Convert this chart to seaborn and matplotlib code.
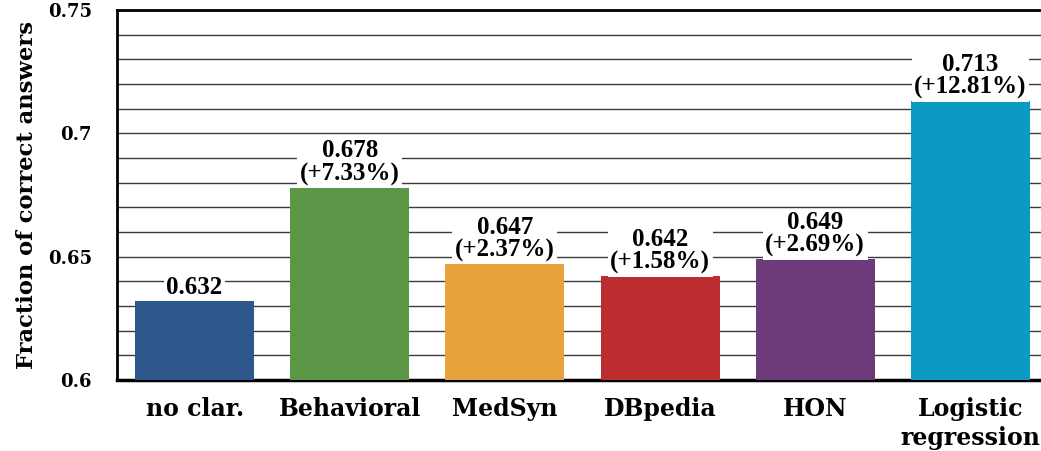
import matplotlib
matplotlib.use("Agg")
import matplotlib.pyplot as plt
import seaborn as sns
import pandas as pd
import numpy as np

categories = ["no clar.", "Behavioral", "MedSyn", "DBpedia", "HON", "Logistic\nregression"]
scores = [0.632, 0.678, 0.647, 0.642, 0.649, 0.713]
gains = [None, "+7.33%", "+2.37%", "+1.58%", "+2.69%", "+12.81%"]
colors = ["#2E588B", "#5C9747", "#E8A23C", "#BC2D30", "#6E3B7A", "#0B9BC2"]
y_ticks = [0.6, 0.65, 0.7, 0.75]

df = pd.DataFrame({"method": categories, "score": scores})

sns.set_theme(style="white")
plt.rcParams["font.family"] = ["DejaVu Serif"]
for key in ["text.color", "axes.labelcolor", "xtick.color", "ytick.color"]:
    plt.rcParams[key] = "black"

fig = plt.figure(figsize=(10.41, 4.51), dpi=100)
ax = fig.add_axes([117 / 1041, 1 - 380 / 451, 931 / 1041, 370 / 451])

sns.barplot(data=df, x="method", y="score", hue="method", palette=colors,
            width=0.767, saturation=1, legend=False, ax=ax, zorder=3,
            edgecolor="none", linewidth=0)

ax.set_xlim(-0.5, len(categories) - 0.5)
ax.set_ylim(0.6, 0.75)

# fine horizontal grid every 0.01, labels only on the 0.05 steps
grid_vals = np.round(np.arange(0.6, 0.7501, 0.01), 3)
ax.set_yticks(grid_vals)
ax.set_yticklabels([f"{v:g}" if np.any(np.isclose(v, y_ticks)) else "" for v in grid_vals])
ax.yaxis.grid(True, color="#3a3a3a", linewidth=1.0, zorder=0)
ax.set_axisbelow(True)

ax.tick_params(axis="y", length=0, pad=18, labelsize=13)
ax.tick_params(axis="x", length=0, pad=12, labelsize=17)
for lab in ax.get_yticklabels():
    lab.set_fontweight("bold")
for lab in ax.get_xticklabels():
    lab.set_fontweight("bold")
    lab.set_linespacing(1.3)

ax.set_xlabel("")
ax.set_ylabel("Fraction of correct answers", fontsize=16.3, fontweight="bold", labelpad=7)

for side in ["left", "top", "bottom"]:
    ax.spines[side].set_color("black")
ax.spines["left"].set_linewidth(2)
ax.spines["top"].set_linewidth(2)
ax.spines["bottom"].set_linewidth(2.5)
ax.spines["right"].set_visible(False)

for i, (v, g) in enumerate(zip(scores, gains)):
    txt = f"{v:.3f}" if g is None else f"{v:.3f}\n({g})"
    ax.annotate(txt, xy=(i, v), xytext=(0, 1.5), textcoords="offset points",
                ha="center", va="bottom", fontsize=18, fontweight="bold",
                family=["Liberation Serif"], linespacing=1.0, zorder=5, color="black",
                bbox=dict(boxstyle="square,pad=0.1", facecolor="white", edgecolor="none"))

fig.savefig("out.png", dpi=100)
